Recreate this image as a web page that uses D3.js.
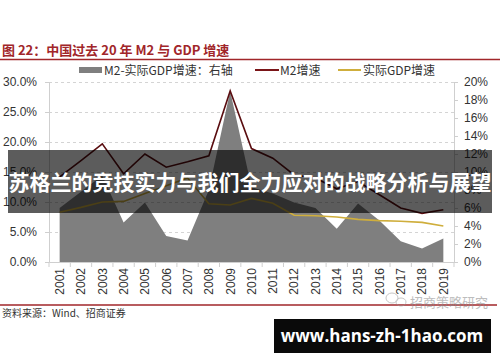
<!DOCTYPE html>
<html>
<head>
<meta charset="utf-8">
<script src="https://cdn.jsdelivr.net/npm/d3@7"></script>
<style>
  body { margin: 0; background: #fff; }
  svg { display: block; font-family: "Liberation Sans", Arial, "Noto Sans CJK SC", sans-serif; }
</style>
</head>
<body>
<svg id="chart" width="500" height="362"></svg>
<script>
// data
var years = ["2001","2002","2003","2004","2005","2006","2007","2008","2009","2010",
             "2011","2012","2013","2014","2015","2016","2017","2018","2019"];
var m2Growth  = [14.2, 16.9, 19.7, 14.7, 18.0, 15.8, 16.7, 17.7, 28.5, 18.9,
                 17.3, 14.5, 14.0, 12.2, 13.4, 11.2, 9.0, 8.1, 8.7];
var gdpGrowth = [8.3, 9.1, 10.0, 10.1, 11.4, 12.7, 14.0, 9.7, 9.5, 10.6,
                 9.8, 7.8, 7.7, 7.5, 7.1, 6.9, 6.8, 6.6, 6.0];
var gapGrowth = [6.0, 7.8, 9.6, 4.4, 6.6, 2.9, 2.4, 8.0, 19.0, 8.3,
                 7.6, 6.6, 6.0, 3.7, 6.5, 4.6, 2.3, 1.5, 2.6];
var leftTicks  = [0, 5, 10, 15, 20, 25, 30];
var rightTicks = [0, 2, 4, 6, 8, 10, 12, 14, 16, 18, 20];
var titleText  = "图 22：中国过去 20 年 M2 与 GDP 增速";
var legendNames = ["M2-实际GDP增速：右轴", "M2增速", "实际GDP增速"];
var sourceText = "资料来源：Wind、招商证券";
var bannerText = "苏格兰的竞技实力与我们全力应对的战略分析与展望";
var siteText   = "www.hans-zh-1hao.com";
var markText   = "招商策略研究";

var svg = d3.select("#chart");
var plot = {left: 49, right: 454, top: 82, bottom: 262};

var x = d3.scaleBand().domain(years).range([plot.left, plot.right]);
var yL = d3.scaleLinear().domain([0, 30]).range([plot.bottom, plot.top]);
var yR = d3.scaleLinear().domain([0, 20]).range([plot.bottom, plot.top]);
var cx = function(d, i){ return x(years[i]) + x.bandwidth() / 2; };

var red = "#a1262a", m2Col = "#5a0d10", gdpCol = "#cfae3c", areaCol = "#7f7f7f";

// title + rule
svg.append("text").attr("x", 2).attr("y", 55)
  .attr("fill", red).attr("font-weight", "bold").attr("font-size", 13)
  .attr("font-family", "'Noto Sans CJK SC', sans-serif")
  .text(titleText);
svg.append("line").attr("x1", 0).attr("x2", 500).attr("y1", 59.5).attr("y2", 59.5)
  .attr("stroke", red).attr("stroke-width", 1.5);

// legend
var lg = svg.append("g").attr("font-size", 12).attr("fill", "#333")
  .attr("font-family", "'Noto Sans CJK SC', sans-serif");
lg.append("rect").attr("x", 79).attr("y", 67).attr("width", 23).attr("height", 6).attr("fill", areaCol);
lg.append("text").attr("x", 104).attr("y", 74.5).text(legendNames[0]);
lg.append("line").attr("x1", 255).attr("x2", 279).attr("y1", 70).attr("y2", 70)
  .attr("stroke", "#7a1518").attr("stroke-width", 2);
lg.append("text").attr("x", 280).attr("y", 74.5).text(legendNames[1]);
lg.append("line").attr("x1", 338).attr("x2", 361).attr("y1", 70).attr("y2", 70)
  .attr("stroke", gdpCol).attr("stroke-width", 2);
lg.append("text").attr("x", 363).attr("y", 74.5).text(legendNames[2]);

// grid
svg.append("g").selectAll("line").data(leftTicks.slice(1)).enter().append("line")
  .attr("x1", plot.left).attr("x2", plot.right)
  .attr("y1", function(d){ return Math.round(yL(d)) + 0.5; })
  .attr("y2", function(d){ return Math.round(yL(d)) + 0.5; })
  .attr("stroke", "#d4d4d4").attr("stroke-dasharray", "3,3");

// area (right axis)
var area = d3.area().x(cx).y0(plot.bottom).y1(function(d){ return yR(d); });
svg.append("path").datum(gapGrowth).attr("d", area).attr("fill", areaCol);

// lines
var lineL = d3.line().x(cx).y(function(d){ return yL(d); });
svg.append("path").datum(gdpGrowth).attr("d", lineL)
  .attr("fill", "none").attr("stroke", gdpCol).attr("stroke-width", 1.6);
svg.append("path").datum(m2Growth).attr("d", lineL)
  .attr("fill", "none").attr("stroke", m2Col).attr("stroke-width", 1.6);

// axes
var axL = svg.append("g").attr("transform", "translate(" + plot.left + ",0)")
  .call(d3.axisLeft(yL).tickValues(leftTicks).tickSize(4).tickPadding(8)
    .tickFormat(function(d){ return d3.format(".1f")(d) + "%"; }));
var axR = svg.append("g").attr("transform", "translate(" + plot.right + ",0)")
  .call(d3.axisRight(yR).tickValues(rightTicks).tickSize(4).tickPadding(6)
    .tickFormat(function(d){ return d + "%"; }));
var axB = svg.append("g").attr("transform", "translate(0," + plot.bottom + ")")
  .call(d3.axisBottom(x).tickSize(0).tickPadding(6));
axB.selectAll("text").attr("transform", "rotate(-90)")
  .attr("text-anchor", "end").attr("dx", "-6").attr("dy", "0.36em").attr("y", 0).attr("x", 0);
// category separators on the x axis
axB.selectAll(".sep").data(years.concat(["end"])).enter().append("line")
  .attr("x1", function(d, i){ return plot.left + i * x.step(); })
  .attr("x2", function(d, i){ return plot.left + i * x.step(); })
  .attr("y1", 0).attr("y2", 5).attr("stroke", "#cfcfcf");

[axL, axR, axB].forEach(function(a){
  a.selectAll(".domain").attr("stroke", "#cfcfcf");
  a.selectAll(".tick line").attr("stroke", "#cfcfcf");
  a.selectAll("text").attr("font-size", 12).attr("fill", "#333")
    .attr("font-family", "'Liberation Sans', Arial, sans-serif");
});

// bottom rule + source
svg.append("line").attr("x1", 0).attr("x2", 497).attr("y1", 305).attr("y2", 305)
  .attr("stroke", red).attr("stroke-width", 1.5);
svg.append("text").attr("x", 2).attr("y", 317).attr("font-size", 10).attr("fill", "#333")
  .attr("font-family", "'Noto Sans CJK SC', sans-serif").text(sourceText);

// watermark
var wm = svg.append("g").attr("opacity", 0.55);
wm.append("ellipse").attr("cx", 392).attr("cy", 298).attr("rx", 6).attr("ry", 5)
  .attr("fill", "none").attr("stroke", "#999");
wm.append("ellipse").attr("cx", 401).attr("cy", 302).attr("rx", 5).attr("ry", 4)
  .attr("fill", "none").attr("stroke", "#999");
wm.append("text").attr("x", 410).attr("y", 307).attr("font-size", 13)
  .attr("font-family", "'Noto Sans CJK SC', sans-serif")
  .attr("fill", "#888").text(markText);

// overlay banner
svg.append("rect").attr("x", 8).attr("y", 150).attr("width", 484).attr("height", 63)
  .attr("fill", "rgba(0,0,0,0.64)");
svg.append("text").attr("x", 250).attr("y", 190).attr("text-anchor", "middle")
  .attr("font-size", 21).attr("font-weight", "bold").attr("fill", "#fff")
  .attr("font-family", "'Noto Sans CJK SC', sans-serif").text(bannerText);

// site box
svg.append("rect").attr("x", 274).attr("y", 319).attr("width", 217).attr("height", 34).attr("fill", "#0a0a0a");
svg.append("text").attr("x", 382).attr("y", 342).attr("text-anchor", "middle")
  .attr("font-size", 17).attr("font-weight", "bold").attr("fill", "#fff")
  .attr("font-family", "'Open Sans', 'DejaVu Sans', sans-serif").text(siteText);
</script>
</body>
</html>
